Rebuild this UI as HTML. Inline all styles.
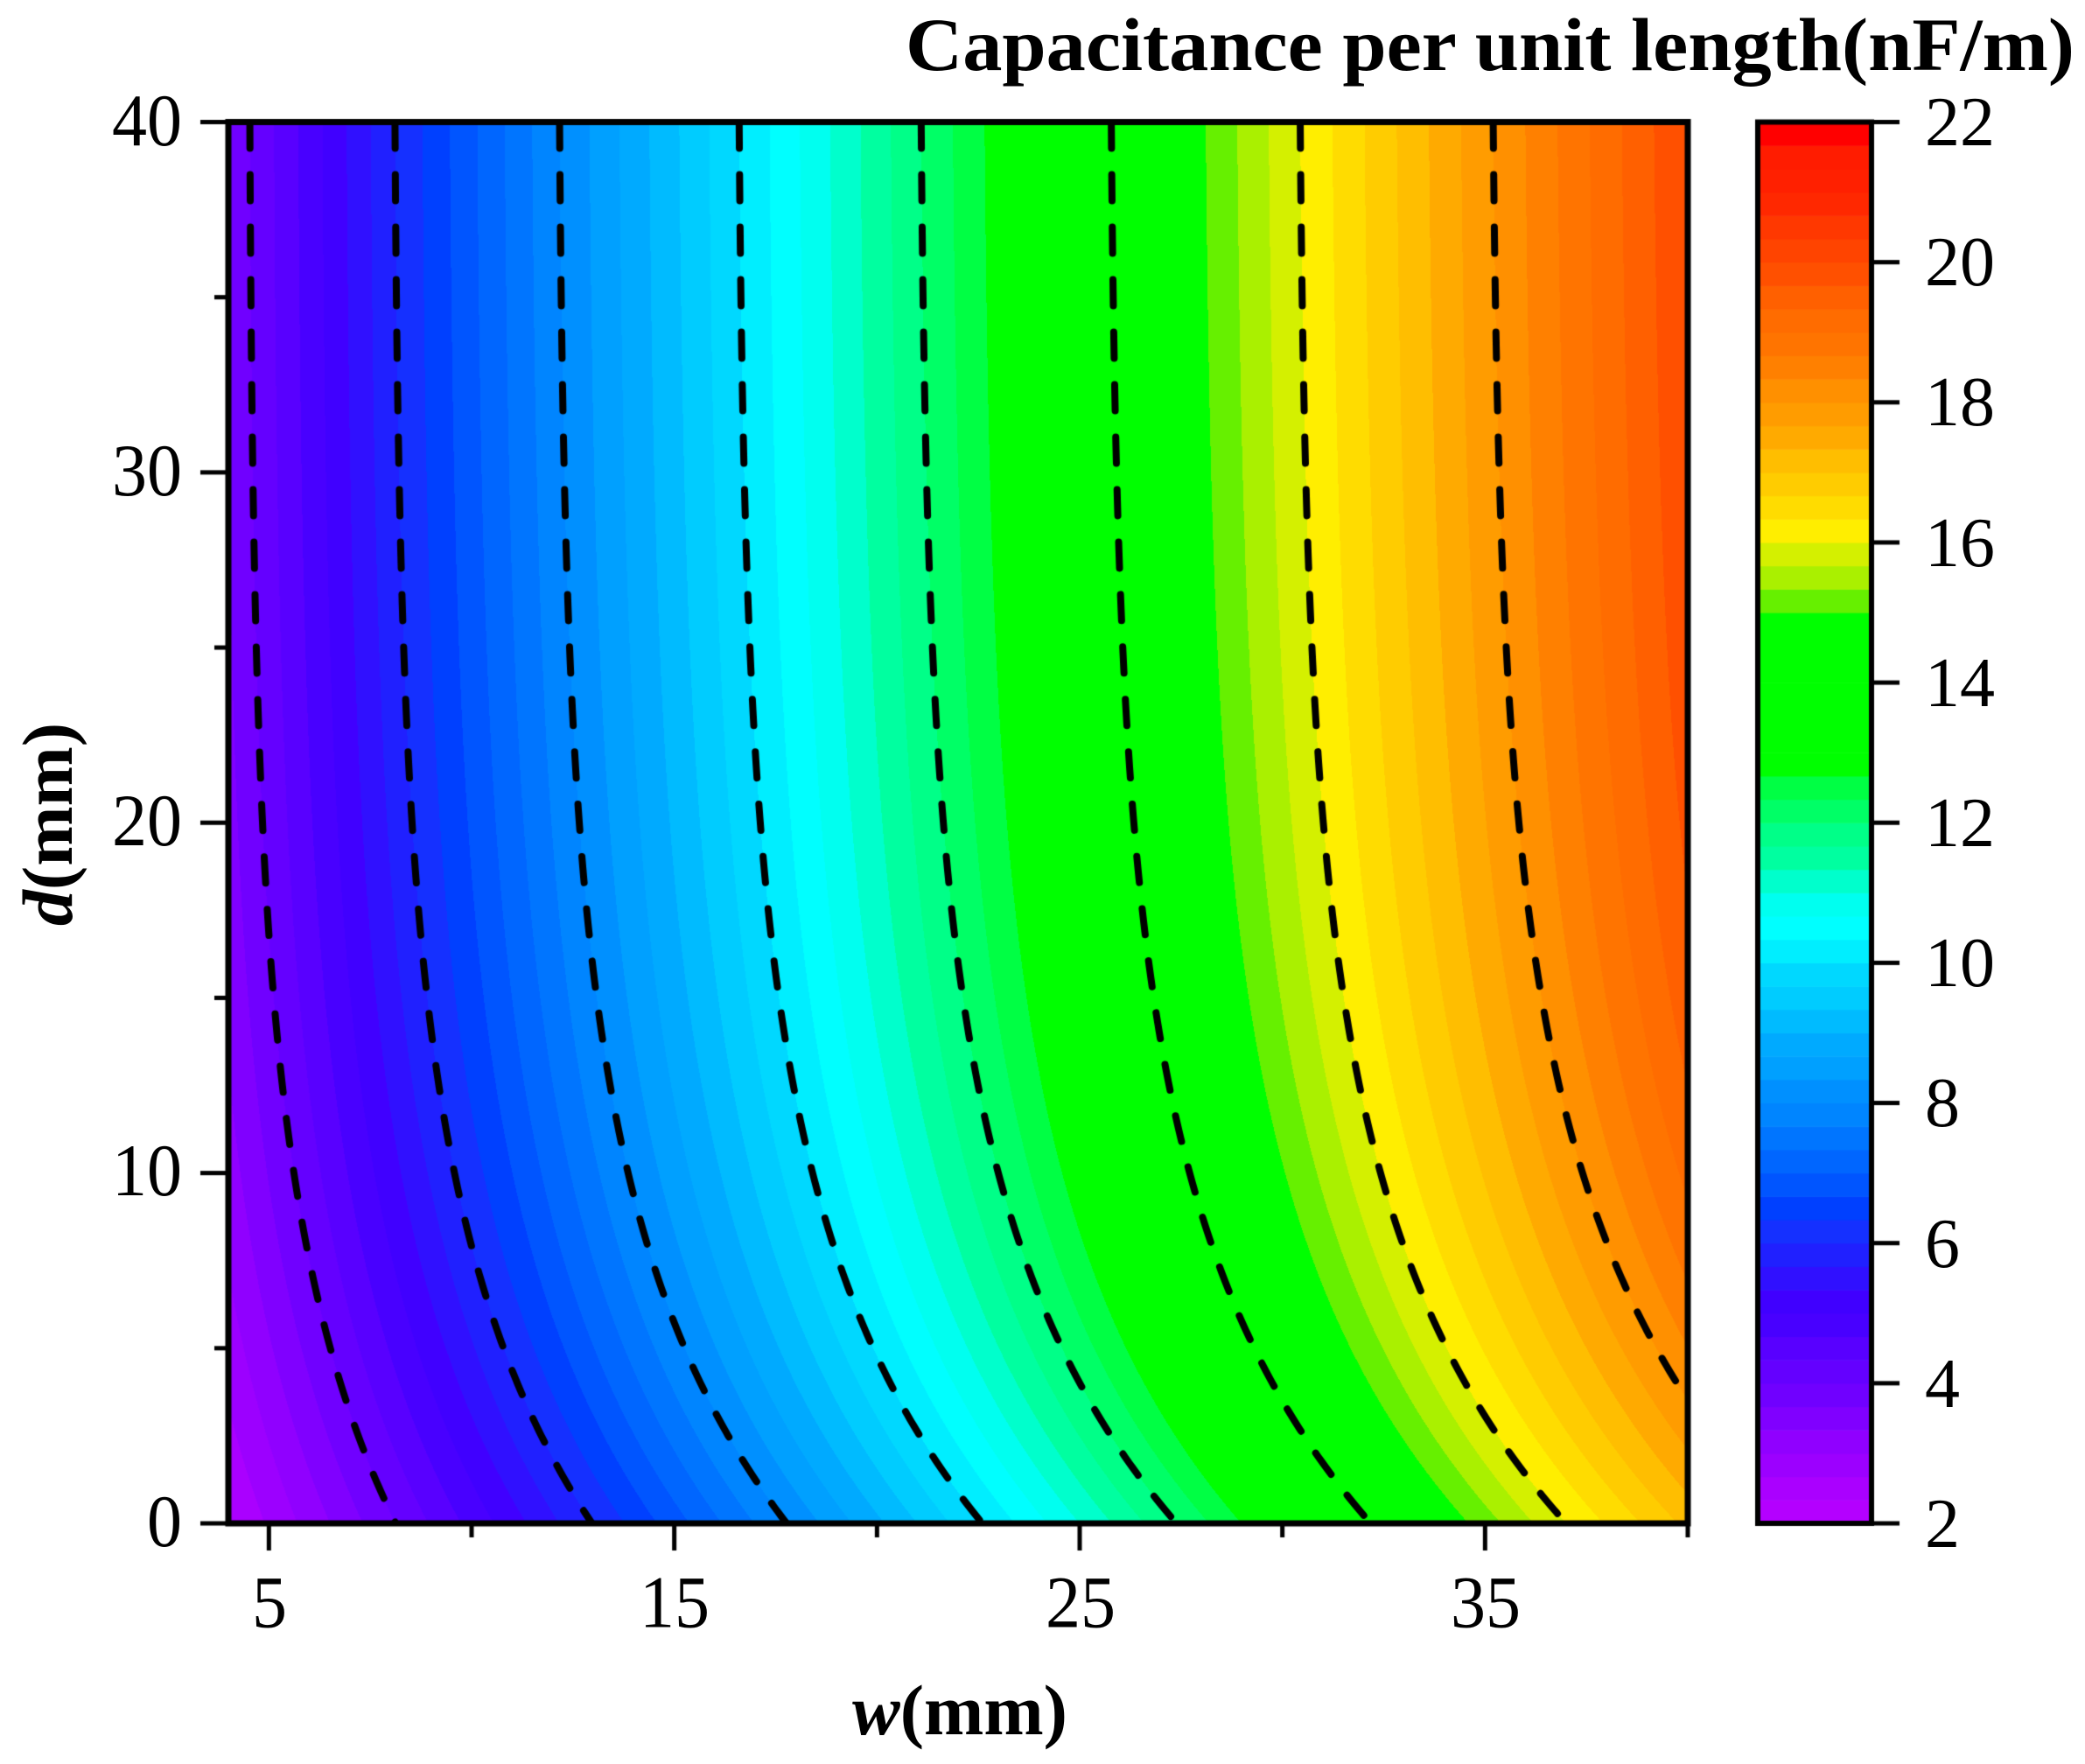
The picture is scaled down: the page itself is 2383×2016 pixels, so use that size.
<!DOCTYPE html>
<html><head><meta charset="utf-8">
<style>
html,body{margin:0;padding:0;background:#fff;}
#wrap{position:relative;width:2383px;height:2016px;overflow:hidden;background:#fff;}
canvas,svg{position:absolute;left:0;top:0;}
text{font-family:"Liberation Serif",serif;fill:#000;}
</style></head>
<body><div id="wrap">
<canvas id="c" width="2383" height="2016"></canvas>
<svg width="2383" height="2016" viewBox="0 0 2383 2016">
<text x="2371" y="80" font-size="86" font-weight="bold" text-anchor="end" textLength="1336" lengthAdjust="spacingAndGlyphs">Capacitance per unit length(nF/m)</text>
<g font-size="80" text-anchor="end">
<text x="208" y="1767" transform="translate(0,-106) scale(1,1.06)">0</text>
<text x="208" y="1366" transform="translate(0,-82) scale(1,1.06)">10</text>
<text x="208" y="966" transform="translate(0,-58) scale(1,1.06)">20</text>
<text x="208" y="566" transform="translate(0,-34) scale(1,1.06)">30</text>
<text x="208" y="166" transform="translate(0,-10) scale(1,1.06)">40</text>
</g>
<g font-size="80" text-anchor="middle" transform="translate(0,-112) scale(1,1.06)">
<text x="308" y="1860">5</text>
<text x="771" y="1860">15</text>
<text x="1235" y="1860">25</text>
<text x="1698" y="1860">35</text>
</g>
<text x="1097" y="1982" font-size="82" font-weight="bold" text-anchor="middle"><tspan font-style="italic">w</tspan>(mm)</text>
<text transform="translate(82,942) rotate(-90)" font-size="82" font-weight="bold" text-anchor="middle"><tspan font-style="italic">d</tspan>(mm)</text>
<g font-size="80">
<text x="2200" y="1768">2</text>
<text x="2200" y="1608">4</text>
<text x="2200" y="1448">6</text>
<text x="2200" y="1287">8</text>
<text x="2200" y="1127">10</text>
<text x="2200" y="967">12</text>
<text x="2200" y="807">14</text>
<text x="2200" y="647">16</text>
<text x="2200" y="486">18</text>
<text x="2200" y="326">20</text>
<text x="2200" y="166">22</text>
</g>
</svg>
</div>
<script>
(function(){
var cv=document.getElementById('c'),ctx=cv.getContext('2d');
var X0=261,X1=1929,Y0=139.5,Y1=1741;
var W0=4,W1=40;
function px(w){return X0+(w-W0)*(X1-X0)/(W1-W0);}
function py(d){return Y1-d*(Y1-Y0)/40;}
var topW=[4.53,8.11,12.17,16.6,21.09,25.78,30.44,35.2];
var topC=[4,6,8,10,12,14,16,18];
var sW=[4.53,8.11,12.17,16.6,21.09,25.78,30.44,35.2];
var sV=[3.6,4.86,5.6,6.0,6.3,6.4,6.56,7.3];
function interp(xs,ys,x,clampLeft,clampRight){
 var n=xs.length;
 if(x<=xs[0]){ if(clampLeft) return Math.max(clampLeft,ys[0]+(x-xs[0])*(ys[1]-ys[0])/(xs[1]-xs[0])); return ys[0]+(x-xs[0])*(ys[1]-ys[0])/(xs[1]-xs[0]);}
 if(x>=xs[n-1]){ if(clampRight) return ys[n-1]; return ys[n-1]+(x-xs[n-1])*(ys[n-1]-ys[n-2])/(xs[n-1]-xs[n-2]);}
 for(var i=0;i<n-1;i++){ if(x<=xs[i+1]) return ys[i]+(x-xs[i])*(ys[i+1]-ys[i])/(xs[i+1]-xs[i]); }
}
function s(w0){return interp(sW,sV,w0,1.5,true);}
var TAU=8.5,E=Math.exp(-40/TAU);
function f(d){return (Math.exp(-d/TAU)-E)/(1-E);}
var bands=['b400ff','aa00ff','9c00ff','9000ff','8000ff','7000ff','6400ff','5800ff','4800ff','4000ff','3010ff','2020ff','1530ff','0040ff','0055ff','0066ff','0075ff','0085ff','0090ff','00a0ff','00aaff','00bbff','00ccff','00d8ff','00eeff','00ffff','00fff0','00ffcc','00ffa0','00ff88','00ff66','00ff44','00ff00','00ff00','00ff00','00ff00','00ff00','00ff00','00ff00','66f000','aaf000','d4f000','ffee00','ffdc00','ffcc00','ffbe00','ffaa00','ff9c00','ff9000','ff8000','ff7400','ff6c00','ff6000','ff5000','ff4400','ff3800','ff2800','ff2000','ff1c00','ff0000'];
var rgb=bands.map(function(h){return [parseInt(h.substr(0,2),16),parseInt(h.substr(2,2),16),parseInt(h.substr(4,2),16)];});
var ix0=Math.floor(X0),iy0=Math.floor(Y0),iw=Math.ceil(X1)-ix0,ih=Math.ceil(Y1)-iy0;
var img=ctx.createImageData(iw,ih),D=img.data;
for(var j=0;j<ih;j++){
 var d=(Y1-(iy0+j+0.5))*40/(Y1-Y0); var fd=f(Math.max(0,Math.min(40,d)));
 for(var i=0;i<iw;i++){
  var w=W0+(ix0+i+0.5-X0)*(W1-W0)/(X1-X0);
  var w0=w; for(var k=0;k<6;k++){w0=w-s(w0)*fd;}
  var C=interp(topW,topC,w0);
  var b=Math.floor((C-2)*3); if(b<0)b=0; if(b>59)b=59;
  var c=rgb[b],p=(j*iw+i)*4; D[p]=c[0];D[p+1]=c[1];D[p+2]=c[2];D[p+3]=255;
 }
}
ctx.putImageData(img,ix0,iy0);
ctx.save();ctx.beginPath();ctx.rect(X0,Y0,X1-X0,Y1-Y0);ctx.clip();
ctx.strokeStyle='#000';ctx.lineWidth=8;ctx.lineCap='round';ctx.setLineDash([30,30]);
for(var k=0;k<topW.length;k++){
 ctx.beginPath();
 for(var t=0;t<=400;t++){var d=40-t*0.1;var w=topW[k]+s(topW[k])*f(d);var X=px(w),Y=py(d);if(t==0)ctx.moveTo(X,Y);else ctx.lineTo(X,Y);}
 ctx.stroke();
}
ctx.restore();
ctx.setLineDash([]);
ctx.strokeStyle='#000';ctx.lineWidth=7;ctx.lineCap='butt';
ctx.strokeRect(X0,Y0,X1-X0,Y1-Y0);
ctx.lineWidth=5;
for(var w=5;w<=40;w+=5){var X=px(w);var major=((w-5)%10==0);ctx.beginPath();ctx.moveTo(X,Y1);ctx.lineTo(X,Y1+(major?31:16));ctx.stroke();}
for(var d=0;d<=40;d+=5){var Y=py(d);var major=(d%10==0);ctx.beginPath();ctx.moveTo(X0,Y);ctx.lineTo(X0-(major?32:16),Y);ctx.stroke();}
var CX0=2009,CX1=2139;
for(var b=0;b<60;b++){var ya=Y1-(b+1)*(Y1-Y0)/60,yb=Y1-b*(Y1-Y0)/60;ctx.fillStyle='#'+bands[b];ctx.fillRect(CX0,ya,CX1-CX0,yb-ya+0.6);}
ctx.lineWidth=6;ctx.strokeRect(CX0,Y0,CX1-CX0,Y1-Y0);
ctx.lineWidth=5;
for(var v=2;v<=22;v+=2){var Y=Y1-(v-2)*(Y1-Y0)/20;ctx.beginPath();ctx.moveTo(CX1,Y);ctx.lineTo(CX1+32,Y);ctx.stroke();}
})();
</script>
</body></html>
